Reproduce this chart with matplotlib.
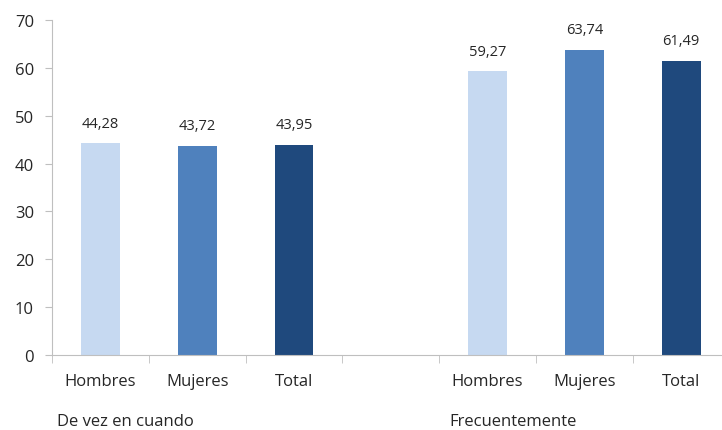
import matplotlib
matplotlib.use("Agg")
import matplotlib.pyplot as plt

categories = ["Hombres", "Mujeres", "Total"]
groups = ["De vez en cuando", "Frecuentemente"]
values_de_vez = [44.28, 43.72, 43.95]
values_frec = [59.27, 63.74, 61.49]
colors = ["#C6D9F1", "#4F81BD", "#1F497D"]
y_ticks = [0, 10, 20, 30, 40, 50, 60, 70]

plt.rcParams['font.family'] = ['Open Sans', 'DejaVu Sans']

fig = plt.figure(figsize=(7.22, 4.31), dpi=100)
W, H = 722, 431
left, right, bottom, top = 52, 729.6, 356, 21
ax = fig.add_axes([left / W, 1 - bottom / H, (right - left) / W, (bottom - top) / H])

positions = [0, 1, 2, 4, 5, 6]
vals = values_de_vez + values_frec
cols = colors + colors
labels = categories + categories
bars = ax.bar(positions, vals, width=0.40, color=cols)
for p, v in zip(positions, vals):
    ax.annotate(f"{v:.2f}".replace('.', ','), xy=(p, v), xytext=(0, 9),
                textcoords='offset points', ha='center', va='bottom',
                fontsize=10.5, color='#262626')

ax.set_xlim(-0.5, 6.5)
ax.set_ylim(0, 70)
ax.set_yticks(y_ticks)
ax.tick_params(axis='y', labelsize=12, colors='#BFBFBF', labelcolor='#262626', length=5, pad=8)
ax.set_xticks(positions)
ax.set_xticklabels(labels)
ax.tick_params(axis='x', which='major', length=0, labelsize=12, labelcolor='#262626', pad=13)
ax.set_xticks([-0.5, 0.5, 1.5, 2.5, 3.5, 4.5, 5.5, 6.5], minor=True)
ax.tick_params(axis='x', which='minor', length=6, color='#BFBFBF')

for s in ['top', 'right']:
    ax.spines[s].set_visible(False)
for s in ['left', 'bottom']:
    ax.spines[s].set_color('#BFBFBF')

trans = ax.get_xaxis_transform()
y_grp = -(414 - 356) / (356 - 21)
ax.text(-0.45, y_grp, groups[0], transform=trans, ha='left', va='top', fontsize=12, color='#262626')
ax.text(3.6, y_grp, groups[1], transform=trans, ha='left', va='top', fontsize=12, color='#262626')

fig.savefig("out.png", dpi=100)
